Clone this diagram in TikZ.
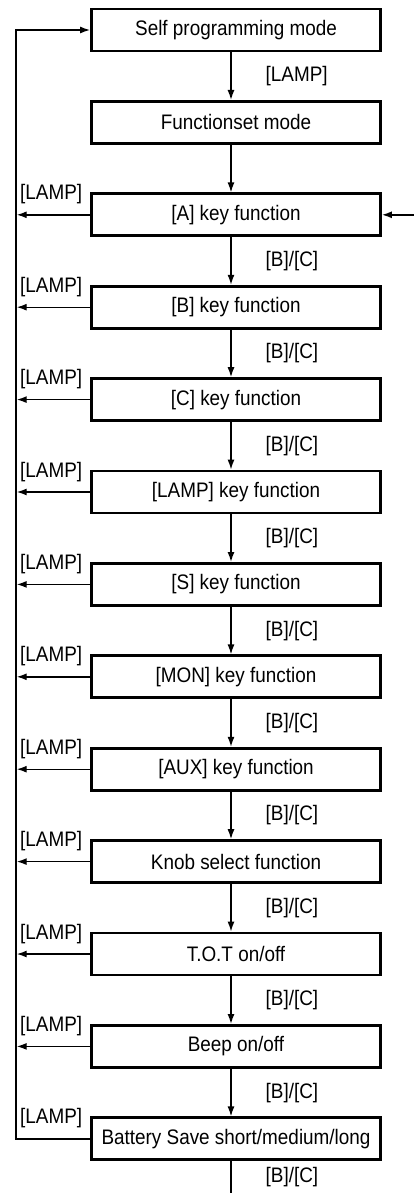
\documentclass[tikz,border=0pt]{standalone}
\usepackage{fontspec}
\setmainfont[FakeStretch=0.9]{Liberation Sans}
\usetikzlibrary{arrows.meta}
\tikzset{
	modebox/.style={draw, line width=2.8pt, minimum width=289pt, minimum height=42pt,
		inner sep=0pt, font=\fontsize{21}{24}\selectfont},
	flow/.style={-{Latex[length=10pt,width=7pt]}, line width=1.4pt},
	keylabel/.style={font=\fontsize{21}{24}\selectfont, inner sep=0pt},
	steplabel/.style={keylabel, anchor=west, xshift=34pt},
	lamplabel/.style={keylabel, anchor=west, xshift=4pt, yshift=-2pt}
}
\begin{document}
\begin{tikzpicture}[x=1pt,y=-1pt]
	\useasboundingbox (0,0) rectangle (414,1193);
	\coordinate (rail) at (16,0);
	\coordinate (back) at (414,0);
	\coordinate (exit) at (231,1193);

	% the modes, one under the other
	\foreach \n/\t [count=\i from 0] in {self/Self programming mode, fset/Functionset mode,
		keyA/{[A] key function}, keyB/{[B] key function}, keyC/{[C] key function},
		keyLAMP/{[LAMP] key function}, keyS/{[S] key function}, keyMON/{[MON] key function},
		keyAUX/{[AUX] key function}, knob/Knob select function, tot/{T.O.T on/off},
		beep/{Beep on/off}, batt/{Battery Save short/medium/long}}
		\node[modebox] (\n) at (236,30+92.4*\i) {\t};

	\draw[flow] ([xshift=-5pt]self.south) -- node[steplabel] {[LAMP]} ([xshift=-5pt]fset.north);
	\draw[flow] ([xshift=-5pt]fset.south) -- ([xshift=-5pt]keyA.north);
	\foreach \a/\b in {keyA/keyB, keyB/keyC, keyC/keyLAMP, keyLAMP/keyS, keyS/keyMON,
		keyMON/keyAUX, keyAUX/knob, knob/tot, tot/beep, beep/batt}
		\draw[flow] ([xshift=-5pt]\a.south) -- node[steplabel] {[B]/[C]} ([xshift=-5pt]\b.north);
	\draw[line width=1.4pt] ([xshift=-5pt]batt.south) -- node[steplabel] {[B]/[C]} (exit);

	% [LAMP] back to self programming
	\foreach \n in {keyA, keyB, keyC, keyLAMP, keyS, keyMON, keyAUX, knob, tot, beep}{
		\draw[flow, shorten >=0.7pt] (\n.west) -- (\n.west -| rail);
		\node[lamplabel] at (\n.north -| rail) {[LAMP]};
	}
	\node[lamplabel] at (batt.north -| rail) {[LAMP]};
	\draw[flow] (batt.west) -- (batt.west -| rail) -- (self.west -| rail) -- (self.west);

	\draw[flow] (keyA.east -| back) -- (keyA.east);
\end{tikzpicture}
\end{document}
